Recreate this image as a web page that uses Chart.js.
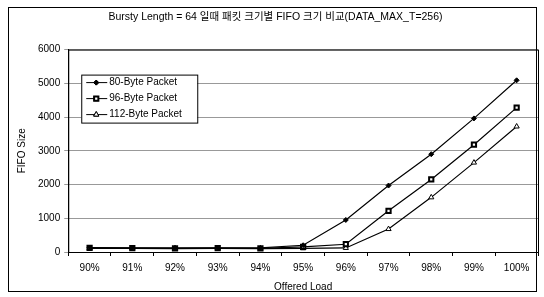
<!DOCTYPE html>
<html>
<head>
<meta charset="utf-8">
<script src="https://cdn.jsdelivr.net/npm/chart.js@4/dist/chart.umd.min.js"></script>
<style>
  html, body { margin: 0; padding: 0; background: #fff; }
  #wrap { width: 544px; height: 297px; }
</style>
</head>
<body>
<div id="wrap"><canvas id="c" width="544" height="297"></canvas></div>
<script>
const loads = ['90%', '91%', '92%', '93%', '94%', '95%', '96%', '97%', '98%', '99%', '100%'];
const byte80 = [130, 125, 120, 125, 120, 200, 950, 1970, 2900, 3960, 5090];
const byte96 = [120, 115, 110, 115, 110, 150, 230, 1220, 2150, 3180, 4280];
const byte112 = [110, 110, 100, 110, 100, 110, 120, 680, 1620, 2650, 3720];
const seriesNames = ['80-Byte Packet', '96-Byte Packet', '112-Byte Packet'];
const yTicks = [0, 1000, 2000, 3000, 4000, 5000, 6000];

const FONT = '"Liberation Sans", Arial, sans-serif';
const KFONT = '"Liberation Sans", "Noto Sans CJK KR", sans-serif';

// frame around the whole chart and around the plot area, legend box inside the plot
const framePlugin = {
  id: 'frame',
  afterDraw(chart) {
    const { ctx, chartArea: a } = chart;
    ctx.save();
    ctx.strokeStyle = '#000';
    ctx.lineWidth = 1;
    ctx.strokeRect(8.5, 7.5, 528, 284);
    ctx.strokeRect(a.left + 0.5, a.top + 0.5, a.right - a.left, a.bottom - a.top);

    // legend
    const x0 = a.left + 13, y0 = a.top + 25, w = 116, rowH = 16;
    const h = rowH * chart.data.datasets.length;
    ctx.fillStyle = '#fff';
    ctx.fillRect(x0, y0, w, h);
    ctx.strokeRect(x0 + 0.5, y0 + 0.5, w, h);
    ctx.font = '10px ' + FONT;
    ctx.textBaseline = 'middle';
    chart.data.datasets.forEach((ds, i) => {
      const cy = y0 + 8 + i * rowH;
      ctx.beginPath();
      ctx.moveTo(x0 + 5, cy);
      ctx.lineTo(x0 + 26, cy);
      ctx.strokeStyle = '#000';
      ctx.stroke();
      Chart.helpers.drawPoint(ctx, {
        pointStyle: ds.pointStyle, radius: ds.pointRadius, rotation: 0,
        borderWidth: ds.pointBorderWidth
      }, x0 + 15, cy);
      ctx.fillStyle = ds.pointBackgroundColor;
      ctx.strokeStyle = '#000';
      ctx.lineWidth = ds.pointBorderWidth;
      ctx.fill();
      ctx.stroke();
      ctx.lineWidth = 1;
      ctx.fillStyle = '#000';
      ctx.fillText(ds.label, x0 + 28, cy);
    });
    ctx.restore();
  }
};

new Chart(document.getElementById('c'), {
  type: 'line',
  data: {
    labels: loads,
    datasets: [
      { label: seriesNames[0], data: byte80, pointStyle: 'rectRot', pointRadius: 2.5,
        pointBackgroundColor: '#000', pointBorderWidth: 1 },
      { label: seriesNames[1], data: byte96, pointStyle: 'rect', pointRadius: 3,
        pointBackgroundColor: '#fff', pointBorderWidth: 2 },
      { label: seriesNames[2], data: byte112, pointStyle: 'triangle', pointRadius: 3,
        pointBackgroundColor: '#fff', pointBorderWidth: 1 }
    ].map((d) => ({
      ...d,
      borderColor: '#000',
      pointBorderColor: '#000',
      borderWidth: 1.2,
      tension: 0,
      fill: false
    }))
  },
  options: {
    responsive: false,
    animation: false,
    layout: { padding: { left: 12, right: 5, top: 6, bottom: 0 } },
    plugins: {
      legend: { display: false },
      tooltip: { enabled: false },
      title: {
        display: true,
        text: 'Bursty Length = 64 일때 패킷 크기별 FIFO 크기 비교(DATA_MAX_T=256)',
        font: { family: KFONT, size: 10.5, weight: 'normal' },
        color: '#000',
        padding: { top: 5, bottom: 26 }
      }
    },
    scales: {
      x: {
        offset: true,
        grid: { display: true, drawOnChartArea: false, offset: true, color: '#000', tickLength: 4 },
        border: { color: '#000' },
        ticks: { color: '#000', font: { family: FONT, size: 10 }, padding: 6, maxRotation: 0 },
        title: { display: true, text: 'Offered Load', color: '#000', font: { family: FONT, size: 10 }, padding: { top: 1 } }
      },
      y: {
        min: 0, max: 6000,
        afterBuildTicks(axis) { axis.ticks = yTicks.map((v) => ({ value: v })); },
        grid: { color: '#999', tickLength: 4 },
        border: { color: '#000' },
        ticks: { color: '#000', font: { family: FONT, size: 10 }, padding: 4, callback: (v) => String(v) },
        title: { display: true, text: 'FIFO Size', color: '#000', font: { family: FONT, size: 10 }, padding: { bottom: 6 } }
      }
    }
  },
  plugins: [framePlugin]
});
</script>
</body>
</html>
